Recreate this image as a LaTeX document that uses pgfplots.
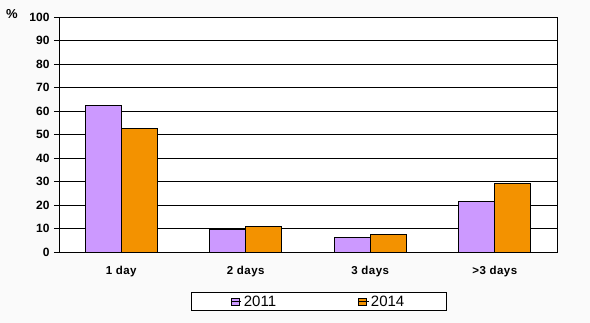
\documentclass[border=0pt]{standalone}
\usepackage{pgfplots}
\pgfplotsset{compat=1.18}
\usepackage{fontspec}
\setmainfont{Liberation Sans}
\definecolor{c2011}{HTML}{CC99FF}
\definecolor{c2014}{HTML}{F39200}
\definecolor{bgc}{HTML}{FAFAFA}
\begin{document}
\begin{tikzpicture}[x=1pt,y=1pt]
\fill[bgc] (0,0) rectangle (590,323);
\useasboundingbox (0,0) rectangle (590,323);
\begin{axis}[
  at={(59pt,71pt)}, anchor=south west,
  scale only axis, width=498pt, height=235pt,
  xmin=0.5, xmax=4.5, ymin=0, ymax=100,
  axis background/.style={fill=white},
  ybar=0pt, bar width=36pt,
  xtick={1,2,3,4},
  xticklabels={1 day,2 days,3 days,>3 days},
  extra x ticks={0.5,1.5,2.5,3.5,4.5},
  extra x tick labels={},
  extra x tick style={major tick length=5pt, tick style={black, line width=0.8pt}, tick align=outside, xtick pos=bottom},
  x tick style={draw=none},
  xtick pos=bottom, ytick pos=left,
  ytick={0,10,...,100},
  ymajorgrids, grid style={black, line width=0.8pt},
  y tick style={black, line width=0.8pt},
  tick align=outside, major tick length=5pt,
  axis line style={black, line width=0.8pt},
  tick label style={font=\bfseries\fontsize{12}{14}\selectfont},
  yticklabel style={xshift=-1pt},
  xticklabel style={yshift=-6pt, font=\bfseries\fontsize{11.5}{14}\selectfont\addfontfeatures{LetterSpace=4}},
  /pgf/number format/assume math mode=true,
  legend columns=2,
  legend style={at={(0.5215,-0.211)}, anchor=center, draw=black, line width=0.8pt,
    fill=white, font=\fontsize{15}{16}\selectfont, inner xsep=40pt, inner ysep=1pt,
    /tikz/every even column/.append style={column sep=80pt}},
  legend image code/.code={\draw[#1, line width=0.6pt] (0pt,-4pt) rectangle (7.5pt,3.5pt); \path (0pt,0pt) -- (10pt,0pt);},
]
\addplot[fill=c2011, draw=black, line width=0.8pt] coordinates {(1,62.4) (2,9.6) (3,6.2) (4,21.6)};
\addplot[fill=c2014, draw=black, line width=0.8pt] coordinates {(1,52.6) (2,10.8) (3,7.5) (4,29.2)};
\legend{2011,2014}
\end{axis}
\node[font=\bfseries\fontsize{13}{14}\selectfont] at (12,309) {\%};
\end{tikzpicture}
\end{document}
